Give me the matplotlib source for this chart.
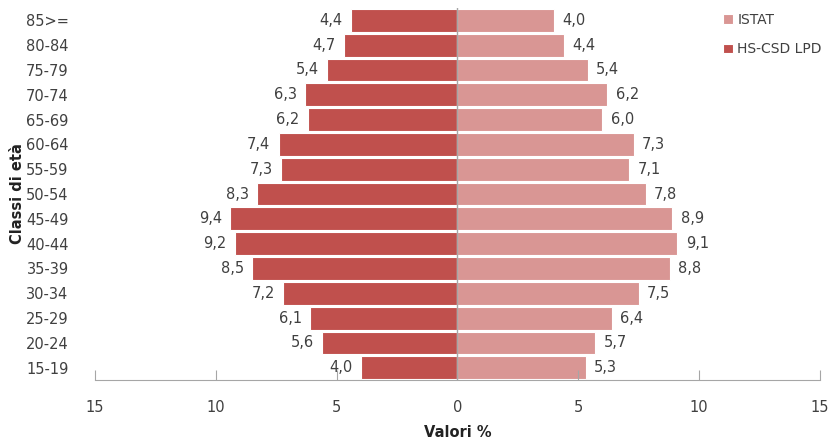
import matplotlib.pyplot as plt

# Age classes, bottom to top
ages = ['15-19', '20-24', '25-29', '30-34', '35-39', '40-44', '45-49', '50-54',
        '55-59', '60-64', '65-69', '70-74', '75-79', '80-84', '85>=']
hs_csd = [4.0, 5.6, 6.1, 7.2, 8.5, 9.2, 9.4, 8.3, 7.3, 7.4, 6.2, 6.3, 5.4, 4.7, 4.4]
istat = [5.3, 5.7, 6.4, 7.5, 8.8, 9.1, 8.9, 7.8, 7.1, 7.3, 6.0, 6.2, 5.4, 4.4, 4.0]
xticks = [-15, -10, -5, 0, 5, 10, 15]

dark = '#C0504D'
light = '#D99694'
grey = '#A6A6A6'
txt = '#404040'

plt.rcParams['font.family'] = ['DejaVu Sans']

fig = plt.figure(figsize=(8.29, 4.40), dpi=100)
ax = fig.add_axes([0.1146, 0.136, 0.8744, 0.846])

y = range(len(ages))
ax.barh(y, [-v for v in hs_csd], height=0.92, color=dark, edgecolor='white',
        linewidth=0.8, label='HS-CSD LPD')
ax.barh(y, istat, height=0.92, color=light, edgecolor='white',
        linewidth=0.8, label='ISTAT')

# value labels with comma decimals
for i in y:
    ax.annotate(f'{hs_csd[i]:.1f}'.replace('.', ','), (-hs_csd[i], i),
                xytext=(-6, 0), textcoords='offset points',
                ha='right', va='center', fontsize=10.5, color=txt)
    ax.annotate(f'{istat[i]:.1f}'.replace('.', ','), (istat[i], i),
                xytext=(6, 0), textcoords='offset points',
                ha='left', va='center', fontsize=10.5, color=txt)

ax.axvline(0, color=grey, lw=1, zorder=3)

ax.set_xlim(-15, 15)
ax.set_ylim(-0.5, len(ages) - 0.5)
ax.set_xticks(xticks)
ax.set_xticklabels([str(abs(t)) for t in xticks], fontsize=10.5, color=txt)
ax.set_yticks(list(y))
ax.set_yticklabels(ages, fontsize=10.5, color=txt)
ax.tick_params(axis='y', length=0, pad=19)
ax.tick_params(axis='x', direction='in', length=7, color=grey, pad=14)

for s in ['top', 'right', 'left']:
    ax.spines[s].set_visible(False)
ax.spines['bottom'].set_color(grey)

ax.set_xlabel('Valori %', fontsize=10.5, fontweight='bold', color='#222222')
ax.set_ylabel('Classi di età', fontsize=10.5, fontweight='bold', color='#222222')
ax.xaxis.set_label_coords(0.5, -0.12)
ax.yaxis.set_label_coords(-0.097, 0.5)

handles, labels = ax.get_legend_handles_labels()
ax.legend(handles[::-1], labels[::-1], loc='upper right', frameon=False,
          fontsize=10, handlelength=0.7, handleheight=0.7, handletextpad=0.3,
          labelspacing=1.1, bbox_to_anchor=(1.02, 1.02), labelcolor=txt)

plt.savefig('out.png', dpi=100)
